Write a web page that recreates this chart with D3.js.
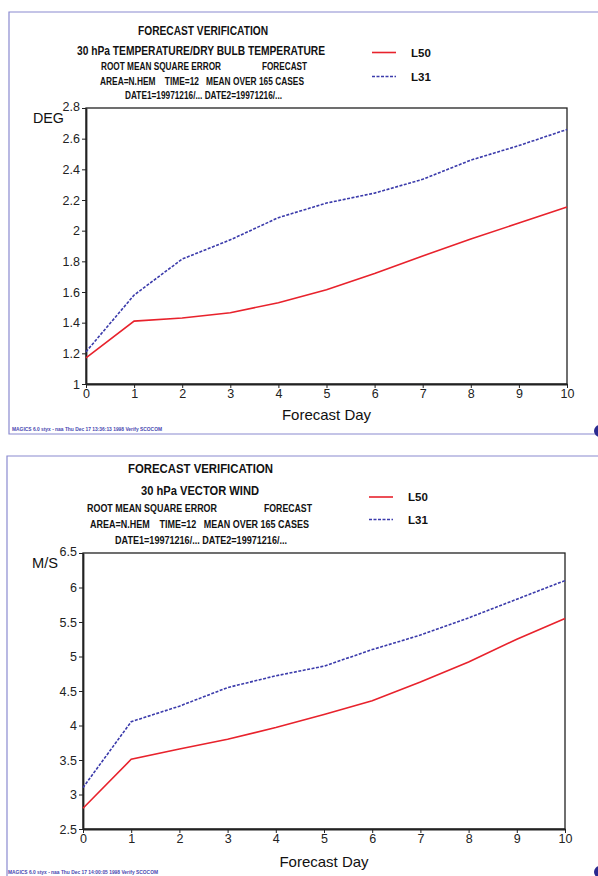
<!DOCTYPE html>
<html>
<head>
<meta charset="utf-8">
<script src="https://cdn.jsdelivr.net/npm/d3@7"></script>
<style>
  body { margin: 0; background: #fff; }
  svg { display: block; font-family: "Liberation Sans", Arial, sans-serif; }
  text { white-space: pre; }
  .tick text { font-size: 12.5px; fill: #222; }
  .tick line, .domain { stroke: #222; }
</style>
</head>
<body>
<svg id="page" width="598" height="876"></svg>
<script>
// forecast days on the x axis
const days = [0, 1, 2, 3, 4, 5, 6, 7, 8, 9, 10];

// 30 hPa temperature rmse (DEG)
const tempL50 = [1.17, 1.41, 1.43, 1.465, 1.53, 1.615, 1.72, 1.835, 1.945, 2.05, 2.155];
const tempL31 = [1.21, 1.58, 1.815, 1.94, 2.085, 2.18, 2.245, 2.335, 2.46, 2.555, 2.66];
const tempTicks = [1, 1.2, 1.4, 1.6, 1.8, 2, 2.2, 2.4, 2.6, 2.8];

// 30 hPa vector wind rmse (M/S)
const windL50 = [2.8, 3.51, 3.66, 3.8, 3.97, 4.16, 4.36, 4.63, 4.92, 5.25, 5.55];
const windL31 = [3.1, 4.055, 4.28, 4.55, 4.72, 4.86, 5.1, 5.31, 5.56, 5.83, 6.1];
const windTicks = [2.5, 3, 3.5, 4, 4.5, 5, 5.5, 6, 6.5];

const dayTicks = days;
const seriesNames = ["L50", "L31"];

const svg = d3.select("#page");

function drawPanel(cfg) {
  let g = svg.append("g");

  // light blue page frame
  g.append("path")
    .attr("d", `M598,${cfg.frame.top} H${cfg.frame.left} V${cfg.frame.bottom} H598`)
    .attr("fill", "none")
    .attr("stroke", "#8a8ad0")
    .attr("stroke-width", 1.2);

  // header lines, squeezed to the widths seen on the plot
  cfg.titles.forEach(t => {
    g.append("text")
      .attr("x", t.x)
      .attr("y", t.y)
      .attr("textLength", t.w)
      .attr("lengthAdjust", "spacingAndGlyphs")
      .style("font-size", t.size + "px")
      .style("font-weight", "bold")
      .style("fill", "#111")
      .text(t.text);
  });

  // legend
  let colours = ["#e8222c", "#3b3bab"];
  let dashes = [null, "3,1.5"];
  seriesNames.forEach((name, i) => {
    let ly = cfg.legend.y[i];
    g.append("line")
      .attr("x1", cfg.legend.x).attr("x2", cfg.legend.x + 24)
      .attr("y1", ly).attr("y2", ly)
      .attr("stroke", colours[i])
      .attr("stroke-width", 1.6)
      .attr("stroke-dasharray", dashes[i]);
    g.append("text")
      .attr("x", cfg.legend.x + 39)
      .attr("y", ly + 4)
      .style("font-size", "11.5px")
      .style("font-weight", "bold")
      .style("fill", "#111")
      .text(name);
  });

  let x = d3.scaleLinear().domain([0, 10]).range([cfg.plot.left, cfg.plot.right]);
  let y = d3.scaleLinear().domain(cfg.yDomain).range([cfg.plot.bottom, cfg.plot.top]);

  // plot box
  g.append("rect")
    .attr("x", cfg.plot.left)
    .attr("y", cfg.plot.top)
    .attr("width", cfg.plot.right - cfg.plot.left)
    .attr("height", cfg.plot.bottom - cfg.plot.top)
    .attr("fill", "none")
    .attr("stroke", "#222")
    .attr("stroke-width", 1.3);

  let yAxis = g.append("g")
    .attr("transform", `translate(${cfg.plot.left},0)`)
    .call(d3.axisLeft(y).tickValues(cfg.yTicks).tickSize(4).tickSizeOuter(0).tickPadding(2).tickFormat(d3.format("")));
  yAxis.select(".domain").attr("stroke-width", 1.8);
  // top label sits a little high, like a superscript to the unit
  yAxis.selectAll(".tick text").filter(d => d === cfg.yDomain[1]).attr("dy", "0.22em");

  let xAxis = g.append("g")
    .attr("transform", `translate(0,${cfg.plot.bottom})`)
    .call(d3.axisBottom(x).tickValues(dayTicks).tickSize(4).tickSizeOuter(0).tickPadding(1).tickFormat(d3.format("")));
  xAxis.select(".domain").attr("stroke-width", 1.8);

  // unit label at top left
  g.append("text")
    .attr("x", cfg.unit.x)
    .attr("y", cfg.unit.y)
    .attr("textLength", cfg.unit.w)
    .attr("lengthAdjust", "spacingAndGlyphs")
    .style("font-size", "14.5px")
    .style("fill", "#111")
    .text(cfg.unit.text);

  g.append("text")
    .attr("x", (cfg.plot.left + cfg.plot.right) / 2)
    .attr("y", cfg.xLabelY)
    .attr("text-anchor", "middle")
    .style("font-size", "15px")
    .style("fill", "#111")
    .text("Forecast Day");

  let line = d3.line().x((d, i) => x(days[i])).y(d => y(d));
  cfg.series.forEach((vals, i) => {
    g.append("path")
      .datum(vals)
      .attr("d", line)
      .attr("fill", "none")
      .attr("stroke", colours[i])
      .attr("stroke-width", 1.6)
      .attr("stroke-dasharray", dashes[i]);
  });

  // tiny MAGICS footer
  g.append("text")
    .attr("x", cfg.footer.x)
    .attr("y", cfg.footer.y)
    .attr("textLength", 150)
    .attr("lengthAdjust", "spacingAndGlyphs")
    .style("font-size", "4.5px")
    .style("font-weight", "bold")
    .style("fill", "#4848b0")
    .text(cfg.footer.text);

  g.append("circle")
    .attr("cx", 600).attr("cy", cfg.dotY).attr("r", 6)
    .attr("fill", "#2a2a90");
}

drawPanel({
  frame: {top: 12, left: 9, bottom: 434},
  titles: [
    {text: "FORECAST VERIFICATION", x: 138, y: 35, w: 130, size: 12.5},
    {text: "30 hPa TEMPERATURE/DRY BULB TEMPERATURE", x: 77, y: 55, w: 248, size: 12.5},
    {text: "ROOT MEAN SQUARE ERROR", x: 101, y: 70, w: 120, size: 10},
    {text: "FORECAST", x: 262, y: 70, w: 45, size: 10},
    {text: "AREA=N.HEM    TIME=12   MEAN OVER 165 CASES", x: 100, y: 85, w: 204, size: 10},
    {text: "DATE1=19971216/... DATE2=19971216/...", x: 125, y: 99, w: 157, size: 10}
  ],
  legend: {x: 372, y: [52.5, 76.5]},
  plot: {left: 86, right: 567, top: 108, bottom: 384},
  yDomain: [1, 2.8],
  yTicks: tempTicks,
  unit: {text: "DEG", x: 33, y: 123, w: 31},
  xLabelY: 420,
  series: [tempL50, tempL31],
  footer: {x: 12, y: 431, text: "MAGICS 6.0 styx - naa Thu Dec 17 13:36:13 1998 Verify SCOCOM"},
  dotY: 431
});

drawPanel({
  frame: {top: 456, left: 7, bottom: 880},
  titles: [
    {text: "FORECAST VERIFICATION", x: 128, y: 473, w: 145, size: 13.5},
    {text: "30 hPa VECTOR WIND", x: 141, y: 495, w: 118, size: 13.5},
    {text: "ROOT MEAN SQUARE ERROR", x: 87, y: 512, w: 130, size: 10.5},
    {text: "FORECAST", x: 264, y: 512, w: 48, size: 10.5},
    {text: "AREA=N.HEM    TIME=12   MEAN OVER 165 CASES", x: 90, y: 528, w: 219, size: 10.5},
    {text: "DATE1=19971216/... DATE2=19971216/...", x: 115, y: 544, w: 172, size: 10.5}
  ],
  legend: {x: 369, y: [497, 519.5]},
  plot: {left: 83, right: 565, top: 553, bottom: 829},
  yDomain: [2.5, 6.5],
  yTicks: windTicks,
  unit: {text: "M/S", x: 32, y: 568, w: 26},
  xLabelY: 867,
  series: [windL50, windL31],
  footer: {x: 8, y: 874, text: "MAGICS 6.0 styx - naa Thu Dec 17 14:00:05 1998 Verify SCOCOM"},
  dotY: 872
});
</script>
</body>
</html>
